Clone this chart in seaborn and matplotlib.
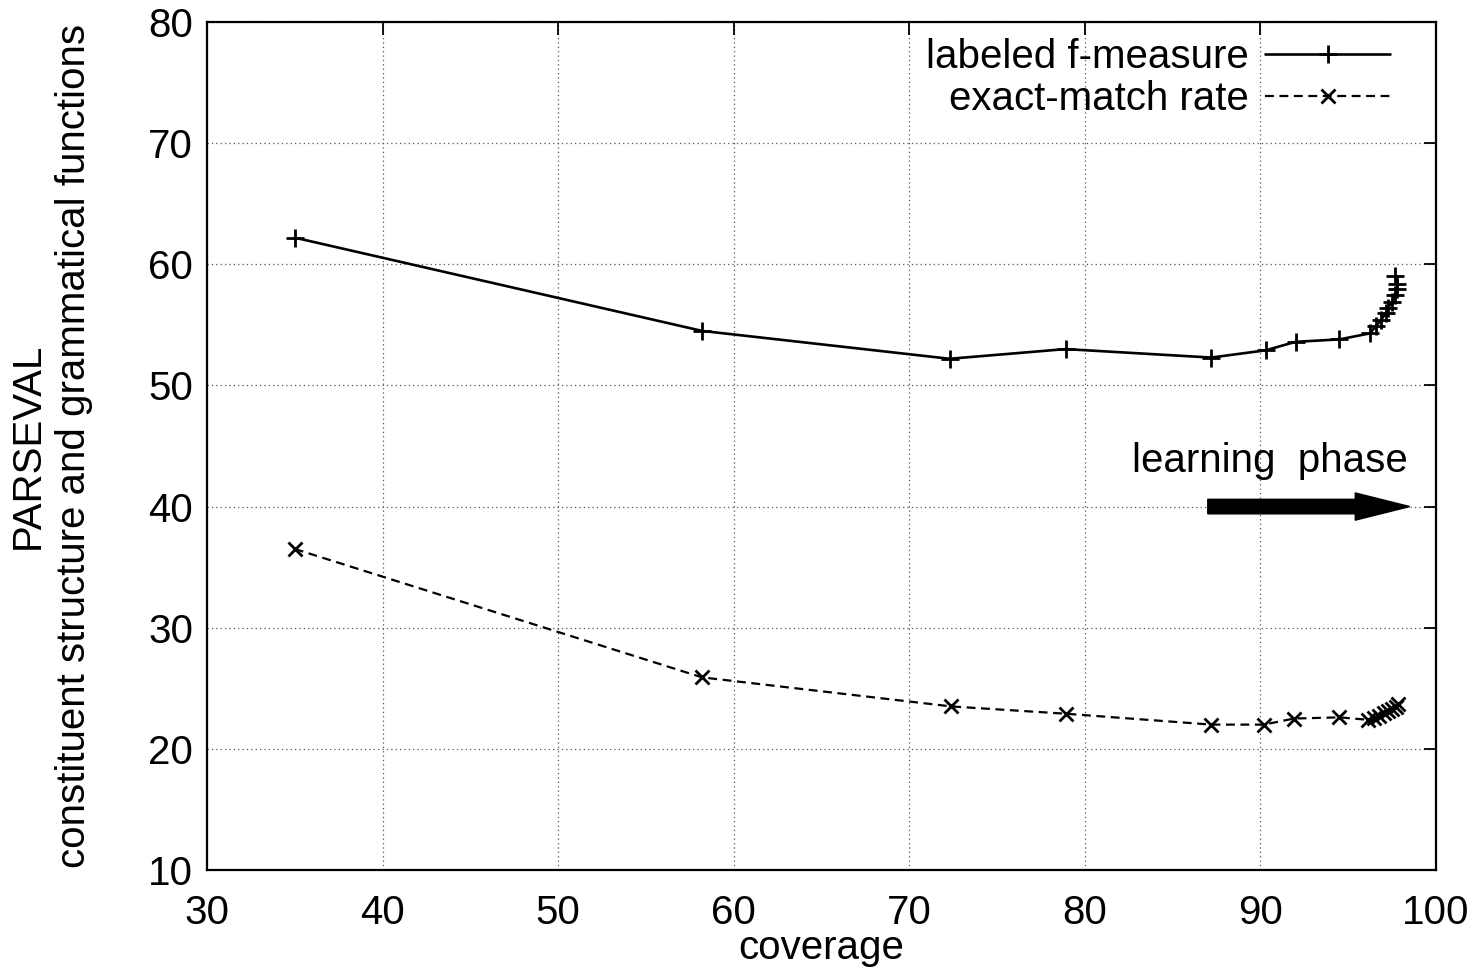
import matplotlib
matplotlib.use("Agg")
import matplotlib.pyplot as plt
import seaborn as sns
import pandas as pd

# valores
coverage_f = [35.0, 58.2, 72.3, 78.9, 87.2, 90.3, 92.0, 94.5, 96.24, 96.58,
              96.87, 97.15, 97.27, 97.49, 97.66, 97.78, 97.78, 97.66]
fmeasure = [62.2, 54.5, 52.2, 53.0, 52.3, 52.9, 53.6, 53.8, 54.3, 54.9,
            55.4, 56.0, 56.4, 56.9, 57.5, 58.0, 58.4, 59.0]

coverage_em = [35.0, 58.2, 72.4, 78.9, 87.2, 90.2, 91.9, 94.5, 96.1, 96.47,
               96.75, 97.04, 97.27, 97.49, 97.72, 97.84]
exact_match = [36.5, 25.9, 23.5, 22.9, 22.0, 22.0, 22.5, 22.6, 22.4, 22.55,
               22.7, 22.96, 23.1, 23.3, 23.45, 23.7]

x_ticks = [30, 40, 50, 60, 70, 80, 90, 100]
y_ticks = [10, 20, 30, 40, 50, 60, 70, 80]

arrow_start, arrow_end, arrow_y = 87.0, 98.5, 40.0
phase_text = "learning  phase"
phase_x, phase_y = 90.55, 42.85

FS = 29

sns.set_style("white")
plt.rcParams['font.family'] = ['Liberation Sans', 'DejaVu Sans']
plt.rcParams['text.color'] = 'black'
plt.rcParams['axes.labelcolor'] = 'black'

df_f = pd.DataFrame({"coverage": coverage_f, "value": fmeasure})
df_em = pd.DataFrame({"coverage": coverage_em, "value": exact_match})

fig = plt.figure(figsize=(14.73, 9.74), dpi=100)
ax = fig.add_axes([0.1405, 0.1068, 0.8344, 0.8706])

sns.lineplot(data=df_f, x="coverage", y="value", ax=ax, sort=False, estimator=None,
             color="black", linewidth=1.9, marker="+", markersize=13,
             markeredgewidth=2.0, markeredgecolor="black", label="labeled f-measure")
sns.lineplot(data=df_em, x="coverage", y="value", ax=ax, sort=False, estimator=None,
             color="black", linewidth=1.6, linestyle=(0, (4, 2.5)), marker="x",
             markersize=10, markeredgewidth=2.0, markeredgecolor="black",
             label="exact-match rate")

ax.set_xlim(30, 100)
ax.set_ylim(10, 80)
ax.set_xticks(x_ticks)
ax.set_yticks(y_ticks)
ax.grid(True, color="#555555", linestyle=(0, (1, 2.5)), linewidth=0.9)
ax.tick_params(axis="both", direction="in", length=9, width=1.3, top=True, right=True,
               labelsize=FS, colors="black")
ax.tick_params(axis="x", pad=17)
ax.tick_params(axis="y", pad=10)
for s in ax.spines.values():
    s.set_linewidth(1.6)
    s.set_color("black")

ax.set_xlabel("coverage", fontsize=FS, labelpad=-2)
ax.set_ylabel("PARSEVAL\nconstituent structure and grammatical functions",
              fontsize=FS, labelpad=40, linespacing=1.25)

# flecha de fase de aprendizaje
ax.arrow(arrow_start, arrow_y, arrow_end - arrow_start - 3.1, 0, width=1.2,
         head_width=2.25, head_length=3.1, length_includes_head=False,
         color="black", zorder=5)
ax.text(phase_x, phase_y, phase_text, fontsize=FS, ha="center", va="baseline")

ax.legend(loc="upper right", bbox_to_anchor=(0.9626, 0.981), frameon=False,
          markerfirst=False, fontsize=FS, handlelength=3.1, handletextpad=0.4,
          labelspacing=0.1, borderpad=0, borderaxespad=0)

fig.savefig("out.png", dpi=100)
